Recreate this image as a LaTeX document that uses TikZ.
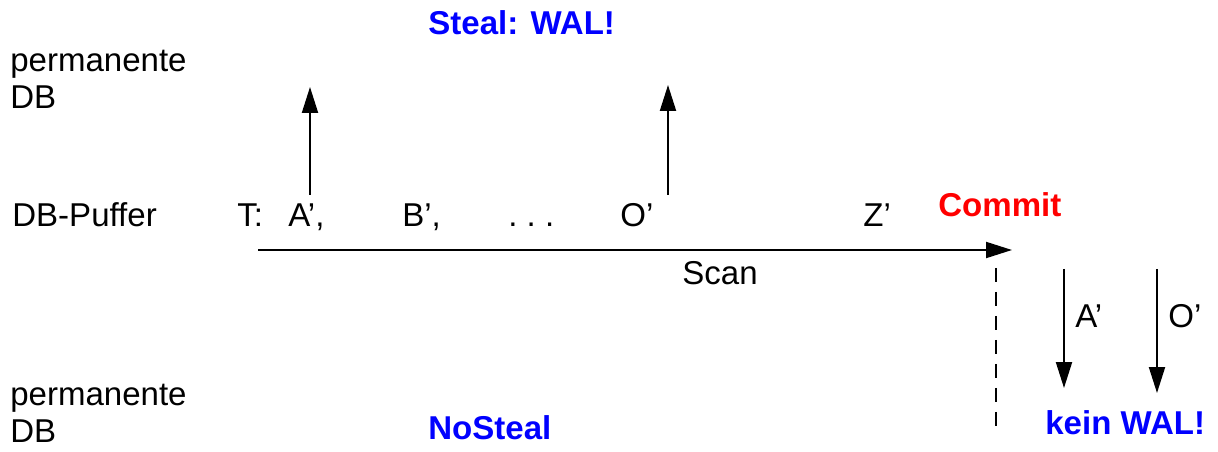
\documentclass[tikz,border=0pt]{standalone}
\usepackage{fontspec}
\setmainfont{Liberation Sans}
\usetikzlibrary{arrows.meta}

\begin{document}
\begin{tikzpicture}[
  x=0.02cm, y=-0.02cm,
  txt/.style={anchor=base west, inner sep=0pt, font=\fontsize{18.8}{21.6}\selectfont, align=left},
  hint/.style={txt, font=\fontsize{18.8}{21.6}\selectfont\bfseries},
  flow/.style={-{Triangle[length=0.52cm, width=0.32cm]}, line width=1.15pt}
]
  \useasboundingbox (0,0) rectangle (1218,452);

  \node[txt] (topdb) at (10,109) {permanente\\DB};
  \node[hint, text=blue] (steal) at (428,35) {Steal: WAL!};

  \node[txt] (puffer) at (12,227) {DB-Puffer};
  \node[txt] (t) at (237,227) {T:};
  \node[txt] (a) at (288,227) {A',};
  \node[txt] (b) at (402,227) {B',};
  \node[txt] (dots) at (508,227) {.\ .\ .};
  \node[txt] (o) at (620,227) {O'};
  \node[txt] (z) at (863,227) {Z'};
  \node[hint, text=red] (commit) at (938,217) {Commit};
  \node[txt] (scan) at (682,285) {Scan};

  \node[txt] (alab) at (1075,328) {A'};
  \node[txt] (olab) at (1168,328) {O'};
  \node[hint, text=blue] (kein) at (1045,435) {kein WAL!};

  \node[txt] (botdb) at (10,443) {permanente\\DB};
  \node[hint, text=blue] (nosteal) at (428,440) {NoSteal};

  \coordinate (a-from) at (310,195);
  \coordinate (a-to) at (310,87);
  \coordinate (o-from) at (668,195);
  \coordinate (o-to) at (668,85);
  \coordinate (scan-from) at (258,250);
  \coordinate (scan-to) at (1012,250);
  \coordinate (cut-from) at (996,268);
  \coordinate (cut-to) at (996,428);
  \coordinate (aw-from) at (1064,269);
  \coordinate (aw-to) at (1064,388);
  \coordinate (ow-from) at (1157,269);
  \coordinate (ow-to) at (1157,393);

  \draw[flow] (a-from) -- (a-to);
  \draw[flow] (o-from) -- (o-to);
  \draw[flow] (scan-from) -- (scan-to);
  \draw[line width=1.15pt, dash pattern=on 0.28cm off 0.2cm] (cut-from) -- (cut-to);
  \draw[flow] (aw-from) -- (aw-to);
  \draw[flow] (ow-from) -- (ow-to);
\end{tikzpicture}
\end{document}
